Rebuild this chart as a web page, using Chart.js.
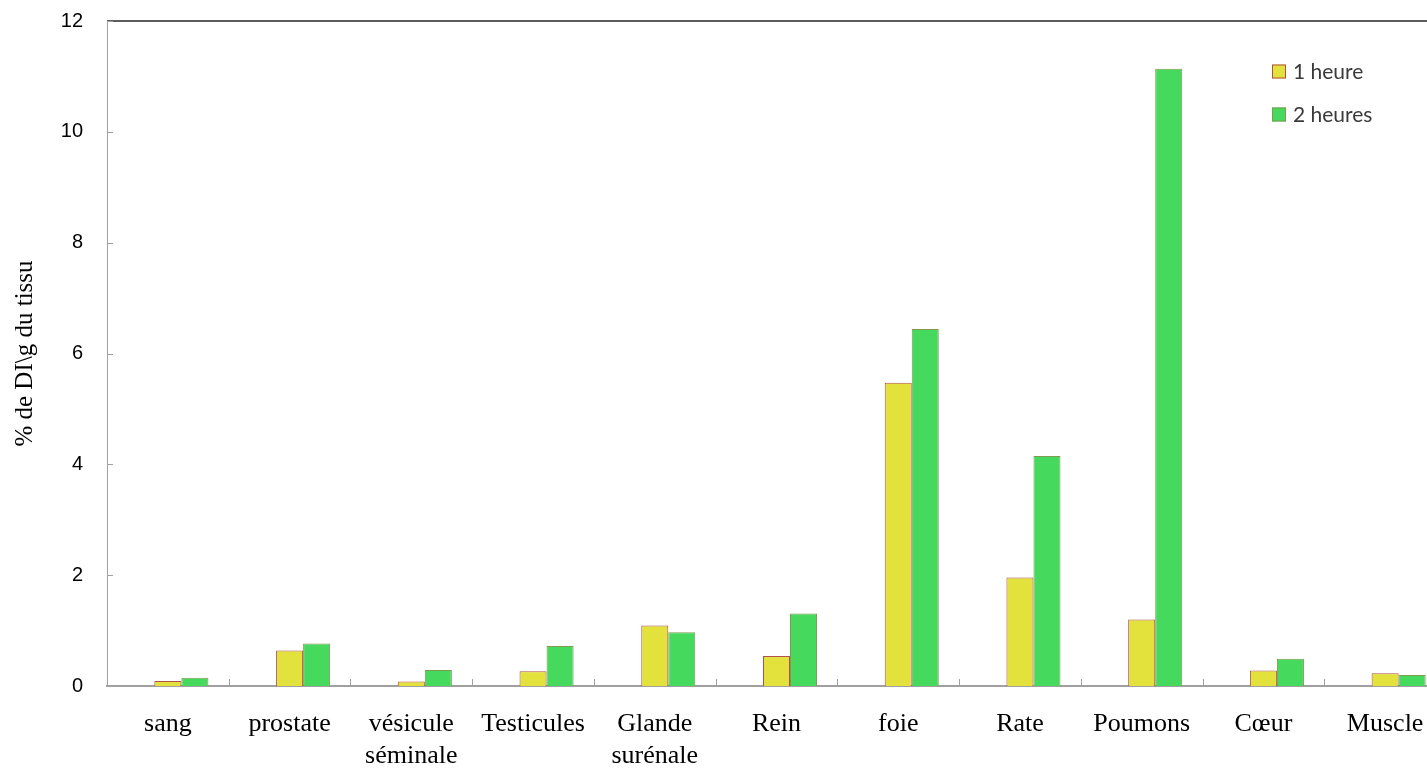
<!DOCTYPE html>
<html>
<head>
<meta charset="utf-8">
<script src="https://cdn.jsdelivr.net/npm/chart.js@4/dist/chart.umd.min.js"></script>
<style>
html,body{margin:0;padding:0;background:#fff;overflow:hidden;}
#wrap{width:1448px;height:769px;}
</style>
</head>
<body>
<div id="wrap"><canvas id="c" width="1448" height="769"></canvas></div>
<script>
const categories = ['sang','prostate',['vésicule','séminale'],'Testicules',['Glande','surénale'],'Rein','foie','Rate','Poumons','Cœur','Muscle'];
const seriesNames = ['1 heure','2 heures'];
const oneHour  = [0.09, 0.64, 0.08, 0.265, 1.09, 0.54, 5.47, 1.96, 1.20, 0.28, 0.23];
const twoHours = [0.15, 0.765, 0.29, 0.72, 0.97, 1.31, 6.44, 4.15, 11.14, 0.49, 0.20];
const emptySeries = [null,null,null,null,null,null,null,null,null,null,null];
const yTicks = [0, 2, 4, 6, 8, 10, 12];
const yTitle = '% de DI\\g du tissu';

const innerTicks = {
  id:'innerTicks',
  afterDraw(chart){
    const ctx = chart.ctx, a = chart.chartArea;
    const xs = chart.scales.x, ys = chart.scales.y;
    ctx.save();
    ctx.strokeStyle = '#262626'; ctx.lineWidth = 1.5;
    ctx.beginPath(); ctx.moveTo(a.left, a.top); ctx.lineTo(chart.width, a.top); ctx.stroke();
    ctx.strokeStyle = '#a0a0a0'; ctx.lineWidth = 1;
    yTicks.forEach(v=>{
      const y = Math.round(ys.getPixelForValue(v))+0.5;
      ctx.beginPath(); ctx.moveTo(a.left, y); ctx.lineTo(a.left+6, y); ctx.stroke();
    });
    for (let i=1;i<categories.length;i++){
      const x = Math.round((xs.getPixelForValue(i-1)+xs.getPixelForValue(i))/2)+0.5;
      ctx.beginPath(); ctx.moveTo(x, a.bottom); ctx.lineTo(x, a.bottom-7); ctx.stroke();
    }
    const ds = chart.data.datasets.filter(d=>d.label);
    ctx.font = '21px Lato';
    ctx.textBaseline = 'middle';
    ctx.textAlign = 'left';
    ds.forEach((d,i)=>{
      const cy = 71.5 + i*43;
      ctx.fillStyle = d.backgroundColor;
      ctx.fillRect(1272, cy-7, 14, 14);
      ctx.strokeStyle = d.borderColor; ctx.lineWidth = 1;
      ctx.strokeRect(1272.5, cy-6.5, 13, 13);
      ctx.fillStyle = '#3a3a3a';
      ctx.fillText(d.label, 1293, cy+1);
    });
    ctx.restore();
  }
};

new Chart(document.getElementById('c'), {
  type:'bar',
  data:{
    labels: categories,
    datasets:[
      {label:'', data: emptySeries, backgroundColor:'rgba(0,0,0,0)', borderWidth:0},
      {label: seriesNames[0], data: oneHour, backgroundColor:'#e3e13b', borderColor:'#b0504a', borderWidth:1},
      {label: seriesNames[1], data: twoHours, backgroundColor:'#45da5e', borderColor:'#7d9a4e', borderWidth:1}
    ]
  },
  options:{
    responsive:false,
    animation:false,
    layout:{padding:{top:21,right:2,left:0,bottom:0}},
    datasets:{bar:{categoryPercentage:0.666, barPercentage:1}},
    plugins:{legend:{display:false}, tooltip:{enabled:false}},
    scales:{
      x:{
        grid:{display:false, drawTicks:false},
        border:{display:true, color:'#a0a0a0', width:2},
        ticks:{color:'#000', font:{family:'"Liberation Serif"', size:26}, padding:23, maxRotation:0, autoSkip:false},
        afterFit(s){ s.height = 83; }
      },
      y:{
        min:0, max:12,
        grid:{display:false, drawTicks:false},
        border:{display:true, color:'#a0a0a0', width:1},
        ticks:{stepSize:2, color:'#000', font:{family:'"Liberation Sans"', size:20}, padding:24},
        title:{display:true, text:yTitle, color:'#000', font:{family:'"Liberation Serif"', size:25}, padding:{top:10,bottom:0}},
        afterFit(s){ s.width = 107; s.paddingTop = 0; s.paddingBottom = 0; }
      }
    }
  },
  plugins:[innerTicks]
});
</script>
</body>
</html>
